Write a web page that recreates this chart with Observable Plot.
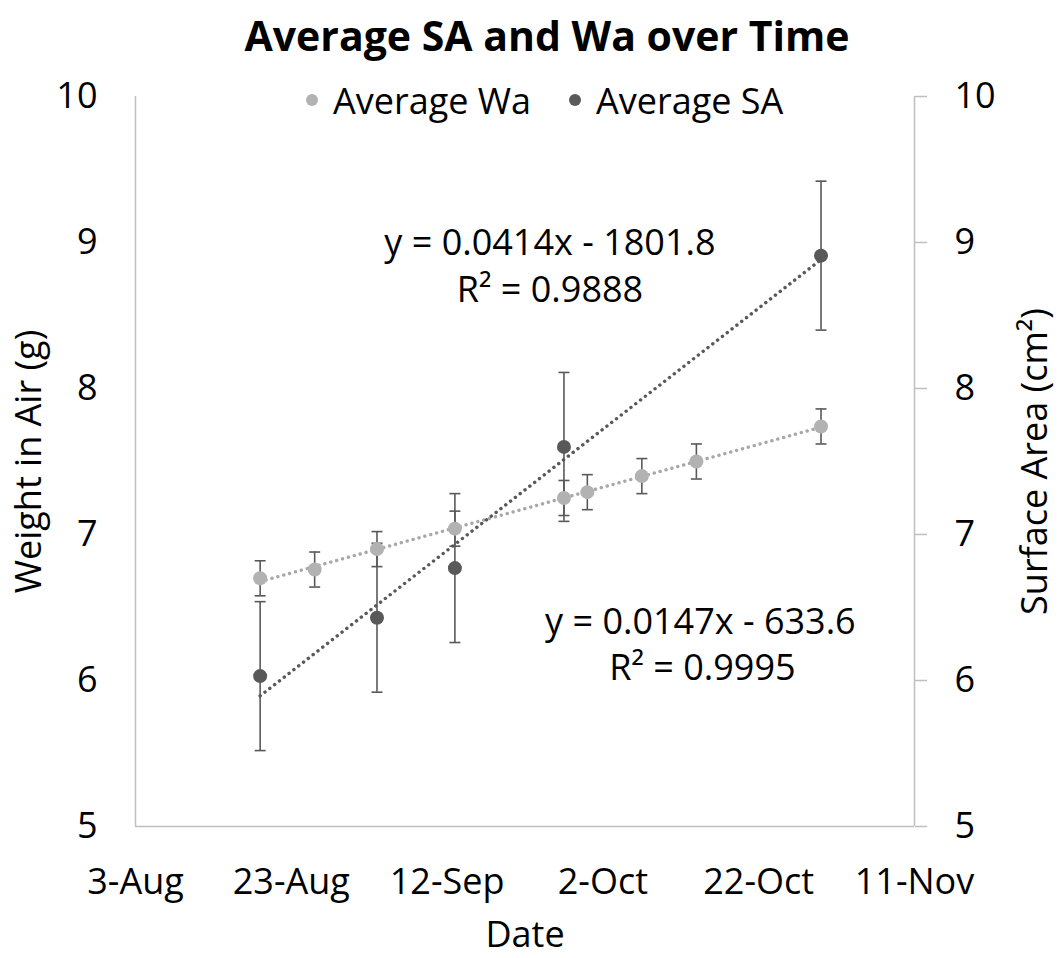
<!DOCTYPE html>
<html>
<head>
<meta charset="utf-8">
<script src="https://cdn.jsdelivr.net/npm/d3@7"></script>
<script src="https://cdn.jsdelivr.net/npm/@observablehq/plot@0.6"></script>
<style>
  html, body { margin: 0; padding: 0; background: #fff; }
  #wrap { position: relative; width: 1062px; height: 958px; font-family: "Open Sans", sans-serif; }
  #title { position: absolute; top: 6px; left: 16px; width: 1062px; text-align: center; font-weight: bold; font-size: 41px; color: #000; line-height: 58px; }
  #legend { position: absolute; top: 77px; left: 0; width: 1062px; height: 46px; font-size: 36px; color: #000; }
  .item { position: absolute; top: 0; display: flex; align-items: center; height: 46px; white-space: nowrap; }
  .sw { width: 12px; height: 12px; border-radius: 50%; margin-right: 15px; }
  #chart { position: absolute; top: 0; left: 0; }
</style>
</head>
<body>
<div id="wrap">
  <div id="chart"></div>
  <div id="title"></div>
  <div id="legend"></div>
</div>
<script>
// ---- data ----
const waDates = ["2019-08-19","2019-08-26","2019-09-03","2019-09-13","2019-09-27","2019-09-30","2019-10-07","2019-10-14","2019-10-30"];
const waValues = [6.70, 6.76, 6.90, 7.04, 7.25, 7.29, 7.40, 7.50, 7.74];
const waErrors = [0.12, 0.12, 0.12, 0.12, 0.12, 0.12, 0.12, 0.12, 0.12];
const saDates = ["2019-08-19","2019-09-03","2019-09-13","2019-09-27","2019-10-30"];
const saValues = [6.03, 6.43, 6.77, 7.60, 8.91];
const saErrors = [0.51, 0.51, 0.51, 0.51, 0.51];
const xTickDates = ["2019-08-03","2019-08-23","2019-09-12","2019-10-02","2019-10-22","2019-11-11"];
const yTicks = [5, 6, 7, 8, 9, 10];
const seriesNames = ["Average Wa", "Average SA"];
const seriesColors = ["#b2b2b2", "#595959"];
const trendColors = ["#a8a8a8", "#595959"];
const saEquation = ["y = 0.0414x - 1801.8", "R² = 0.9888"];
const waEquation = ["y = 0.0147x - 633.6", "R² = 0.9995"];
const titleText = "Average SA and Wa over Time";
const xLabel = "Date";
const yLeftLabel = "Weight in Air (g)";
const yRightLabel = "Surface Area (cm²)";

// ---- build ----
const parse = d3.utcParse("%Y-%m-%d");
const wa = waDates.map((d, i) => ({date: parse(d), v: waValues[i], e: waErrors[i]}));
const sa = saDates.map((d, i) => ({date: parse(d), v: saValues[i], e: saErrors[i]}));
const xTicks = xTickDates.map(parse);

function fit(data) {
  const xs = data.map(d => +d.date), ys = data.map(d => d.v);
  const mx = d3.mean(xs), my = d3.mean(ys);
  const b = d3.sum(xs, (x, i) => (x - mx) * (ys[i] - my)) / d3.sum(xs, x => (x - mx) ** 2);
  const a = my - b * mx;
  const [x0, x1] = d3.extent(xs);
  return [x0, x1].map(x => ({date: new Date(x), v: a + b * x}));
}
const waFit = fit(wa), saFit = fit(sa);

const capSymbol = {
  draw(ctx, size) {
    const w = Math.sqrt(size / Math.PI);
    ctx.moveTo(-w, 0); ctx.lineTo(w, 0);
  }
};

const axisColor = "#bfbfbf";
const errColor = "#595959";
const fontSize = 36;

const plot = Plot.plot({
  width: 1062,
  height: 958,
  marginTop: 96,
  marginBottom: 132,
  marginLeft: 135,
  marginRight: 148,
  style: {fontFamily: "Open Sans, sans-serif", fontSize: fontSize + "px", color: "#000", background: "transparent"},
  x: {type: "utc", domain: [xTicks[0], xTicks[xTicks.length - 1]]},
  y: {domain: [5, 10]},
  marks: [
    Plot.ruleX([xTicks[0], xTicks[xTicks.length - 1]], {stroke: axisColor, strokeWidth: 1.5}),
    Plot.ruleY([yTicks[0]], {stroke: axisColor, strokeWidth: 1.5}),
    Plot.axisX({ticks: xTicks, tickFormat: d3.utcFormat("%-d-%b"), tickSize: 0, tickPadding: 42,
      label: xLabel, labelAnchor: "center", labelArrow: "none", labelOffset: 120, fontSize: fontSize}),
    Plot.axisY({ticks: yTicks, tickFormat: "d", anchor: "left", tickSize: 0, tickPadding: 38, fontSize: fontSize,
      label: yLeftLabel, labelAnchor: "center", labelArrow: "none", labelOffset: 120}),
    Plot.axisY({ticks: yTicks, tickFormat: "d", anchor: "right", tickSize: 12, tickPadding: 28, stroke: axisColor, strokeWidth: 1.5, fontSize: fontSize,
      label: yRightLabel, labelAnchor: "center", labelArrow: "none", labelOffset: 132}),
    // trendlines
    Plot.line(waFit, {x: "date", y: "v", stroke: trendColors[0], strokeWidth: 3.4, strokeDasharray: "0.1,6", strokeLinecap: "round"}),
    Plot.line(saFit, {x: "date", y: "v", stroke: trendColors[1], strokeWidth: 3.4, strokeDasharray: "0.1,6", strokeLinecap: "round"}),
    // error bars
    Plot.ruleX(wa, {x: "date", y1: d => d.v - d.e, y2: d => d.v + d.e, stroke: errColor, strokeWidth: 1.6}),
    Plot.ruleX(sa, {x: "date", y1: d => d.v - d.e, y2: d => d.v + d.e, stroke: errColor, strokeWidth: 1.6}),
    Plot.dot(wa, {x: "date", y: d => d.v - d.e, symbol: capSymbol, r: 5.5, stroke: errColor, strokeWidth: 1.6}),
    Plot.dot(wa, {x: "date", y: d => d.v + d.e, symbol: capSymbol, r: 5.5, stroke: errColor, strokeWidth: 1.6}),
    Plot.dot(sa, {x: "date", y: d => d.v - d.e, symbol: capSymbol, r: 5.5, stroke: errColor, strokeWidth: 1.6}),
    Plot.dot(sa, {x: "date", y: d => d.v + d.e, symbol: capSymbol, r: 5.5, stroke: errColor, strokeWidth: 1.6}),
    // points
    Plot.dot(wa, {x: "date", y: "v", r: 7, fill: seriesColors[0]}),
    Plot.dot(sa, {x: "date", y: "v", r: 7, fill: seriesColors[1]}),
    // equations
    Plot.text([sa[3]], {x: "date", y: "v", text: () => saEquation[0], dx: -14, dy: -203, fontSize: fontSize, fill: "#000"}),
    Plot.text([sa[3]], {x: "date", y: "v", text: () => saEquation[1], dx: -14, dy: -156, fontSize: fontSize, fill: "#000"}),
    Plot.text([wa[7]], {x: "date", y: "v", text: () => waEquation[0], dx: 4, dy: 161, fontSize: fontSize, fill: "#000"}),
    Plot.text([wa[7]], {x: "date", y: "v", text: () => waEquation[1], dx: 6, dy: 207, fontSize: fontSize, fill: "#000"})
  ]
});
document.getElementById("chart").appendChild(plot);

document.getElementById("title").textContent = titleText;
const legend = document.getElementById("legend");
const legendLeft = [306, 569];
seriesNames.forEach((name, i) => {
  const it = document.createElement("div");
  it.className = "item";
  it.style.left = legendLeft[i] + "px";
  const sw = document.createElement("span");
  sw.className = "sw";
  sw.style.background = seriesColors[i];
  const tx = document.createElement("span");
  tx.textContent = name;
  it.appendChild(sw); it.appendChild(tx);
  legend.appendChild(it);
});
</script>
</body>
</html>
